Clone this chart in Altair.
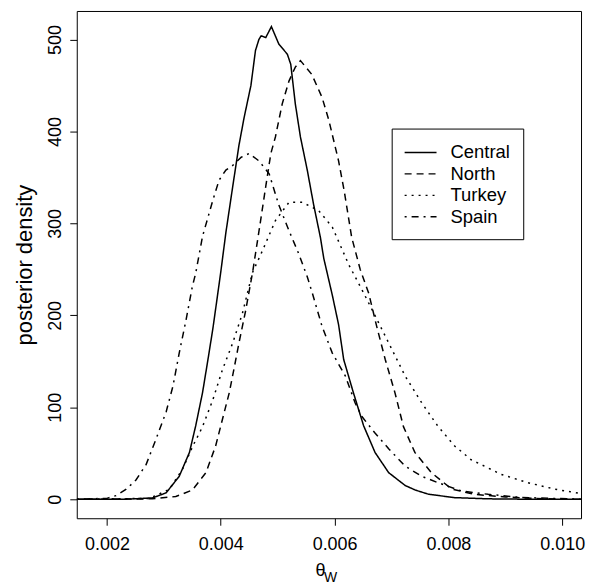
import altair as alt
import pandas as pd

# ---- data ----
regions = ["Central", "North", "Turkey", "Spain"]

central_x = [0.00147, 0.0023, 0.0028, 0.00304, 0.00327, 0.00345, 0.00356, 0.00368, 0.00377, 0.00386,
             0.00391, 0.00400, 0.00409, 0.00421, 0.00432, 0.00441, 0.00453, 0.00461, 0.00467, 0.00471,
             0.00479, 0.00489, 0.00502, 0.00517, 0.00523, 0.00531, 0.00540, 0.00552, 0.00563, 0.00575,
             0.00581, 0.00596, 0.00607, 0.00616, 0.00633, 0.00651, 0.00671, 0.00695, 0.00724, 0.00742,
             0.00765, 0.00811, 0.00870, 0.00950, 0.01040]
central_y = [0, 0, 1.5, 7, 25, 51, 80, 116, 150, 185,
             207, 247, 290, 340, 385, 415, 450, 488, 500, 504,
             502, 514, 495, 484, 473, 430, 394, 358, 321, 285,
             262, 222, 190, 152, 116, 80, 51, 29, 15, 10,
             5.5, 1.8, 0.5, 0, 0]

north_x = [0.00147, 0.00280, 0.00321, 0.00350, 0.00374, 0.00391, 0.00403, 0.00415, 0.00423, 0.00432,
           0.00444, 0.00456, 0.00461, 0.00470, 0.00479, 0.00488, 0.00496, 0.00508, 0.00520, 0.00531,
           0.00540, 0.00560, 0.00578, 0.00590, 0.00607, 0.00617, 0.00630, 0.00645, 0.00660, 0.00674,
           0.00689, 0.00706, 0.00721, 0.00741, 0.00770, 0.00806, 0.00846, 0.00900, 0.00970, 0.01040]
north_y = [0, 0.5, 3, 10, 29, 58, 87, 116, 141, 170,
           206, 247, 267, 303, 340, 376, 394, 430, 455, 470,
           477, 462, 437, 412, 368, 335, 285, 250, 224, 188,
           152, 116, 79, 51, 29, 11, 5.4, 2.5, 0.5, 0]

turkey_x = [0.00147, 0.00275, 0.00310, 0.00333, 0.00351, 0.00368, 0.00386, 0.00403, 0.00421, 0.00438,
            0.00456, 0.00473, 0.00496, 0.00520, 0.00543, 0.00572, 0.00596, 0.00625, 0.00648, 0.00666,
            0.00695, 0.00724, 0.00753, 0.00782, 0.00811, 0.00840, 0.00870, 0.00893, 0.00940, 0.00987,
            0.01040]
turkey_y = [0, 1, 11, 33, 58, 79, 108, 141, 170, 202,
            247, 270, 303, 323, 323, 314, 296, 255, 228, 206,
            170, 134, 105, 79, 58, 43, 34, 27, 18, 11,
            5.5]

spain_x = [0.00147, 0.00187, 0.00200, 0.00216, 0.00234, 0.00251, 0.00269, 0.00286, 0.00304, 0.00316,
           0.00327, 0.00339, 0.00350, 0.00356, 0.00368, 0.00386, 0.00397, 0.00409, 0.00421, 0.00436,
           0.00450, 0.00467, 0.00485, 0.00502, 0.00520, 0.00537, 0.00552, 0.00561, 0.00578, 0.00596,
           0.00619, 0.00636, 0.00648, 0.00671, 0.00695, 0.00724, 0.00753, 0.00782, 0.00823, 0.00870,
           0.00928, 0.01040]
spain_y = [0, 0.8, 1, 4, 11, 21, 38, 65, 95, 123,
           159, 195, 231, 246, 286, 325, 347, 358, 363, 372,
           376, 368, 354, 320, 292, 267, 242, 224, 188, 159,
           134, 105, 90, 72, 55, 36, 25, 18, 9, 5.4,
           2, 0]

x_ticks = [0.002, 0.004, 0.006, 0.008, 0.010]
y_ticks = [0, 100, 200, 300, 400, 500]
x_title = "θ"
x_subscript = ["W"]
y_title = "posterior density"

series = {
    "Central": (central_x, central_y),
    "North": (north_x, north_y),
    "Turkey": (turkey_x, turkey_y),
    "Spain": (spain_x, spain_y),
}
rows = []
for name in regions:
    xs, ys = series[name]
    for xv, yv in zip(xs, ys):
        rows.append({"region": name, "theta": xv, "density": yv})
df = pd.DataFrame(rows)

FONT = "Liberation Sans"
W, H = 506, 509

lines = alt.Chart(df).mark_line(color="black", strokeWidth=1.5, clip=True).encode(
    x=alt.X("theta:Q",
            scale=alt.Scale(domain=[0.00147, 0.01033], nice=False, zero=False),
            axis=alt.Axis(values=x_ticks, format=".3f", title=x_title, grid=False, domain=False,
                          ticks=True, tickSize=7, tickColor="black", tickWidth=1,
                          labelFontSize=18, labelColor="black", labelPadding=10, labelFlush=False,
                          titleFontSize=18, titleFontWeight="normal", titleColor="black",
                          titleX=244, titleY=57, titleAlign="center", titleBaseline="alphabetic")),
    y=alt.Y("density:Q",
            scale=alt.Scale(domain=[-20.6, 531], nice=False, zero=False),
            axis=alt.Axis(values=y_ticks, title=y_title, grid=False, domain=False,
                          ticks=True, tickSize=7, tickColor="black", tickWidth=1,
                          labelFontSize=18, labelColor="black", labelAngle=-90,
                          labelAlign="center", labelBaseline="bottom", labelPadding=5,
                          titleFontSize=22, titleFontWeight="normal", titleColor="black",
                          titlePadding=10)),
    strokeDash=alt.StrokeDash(
        "region:N",
        scale=alt.Scale(domain=regions, range=[[1, 0], [7, 5], [2, 5], [2, 5, 7, 5]]),
        legend=alt.Legend(title=None, orient="none", legendX=316, legendY=118,
                          strokeColor="black", fillColor="white", padding=13,
                          symbolType="M-1.6,0H1.6", symbolSize=400, symbolStrokeWidth=1.4,
                          symbolStrokeColor="black", symbolOffset=5,
                          labelFontSize=18.5, labelColor="black",
                          labelOffset=19, rowPadding=0.5, labelFont=FONT),
    ),
)

sub = alt.Chart(pd.DataFrame({"t": x_subscript})).mark_text(
    font=FONT, fontSize=14, color="black", align="left", baseline="alphabetic"
).encode(x=alt.value(248), y=alt.value(573), text="t:N")

chart = alt.layer(lines, sub).properties(
    width=W, height=H,
    autosize=alt.AutoSizeParams(type="none"),
    padding={"left": 69, "top": 2, "right": 8, "bottom": 66},
).configure(font=FONT).configure_view(stroke="black", strokeWidth=1)

chart.save("out.html", embed_options={"renderer": "svg", "actions": False})
